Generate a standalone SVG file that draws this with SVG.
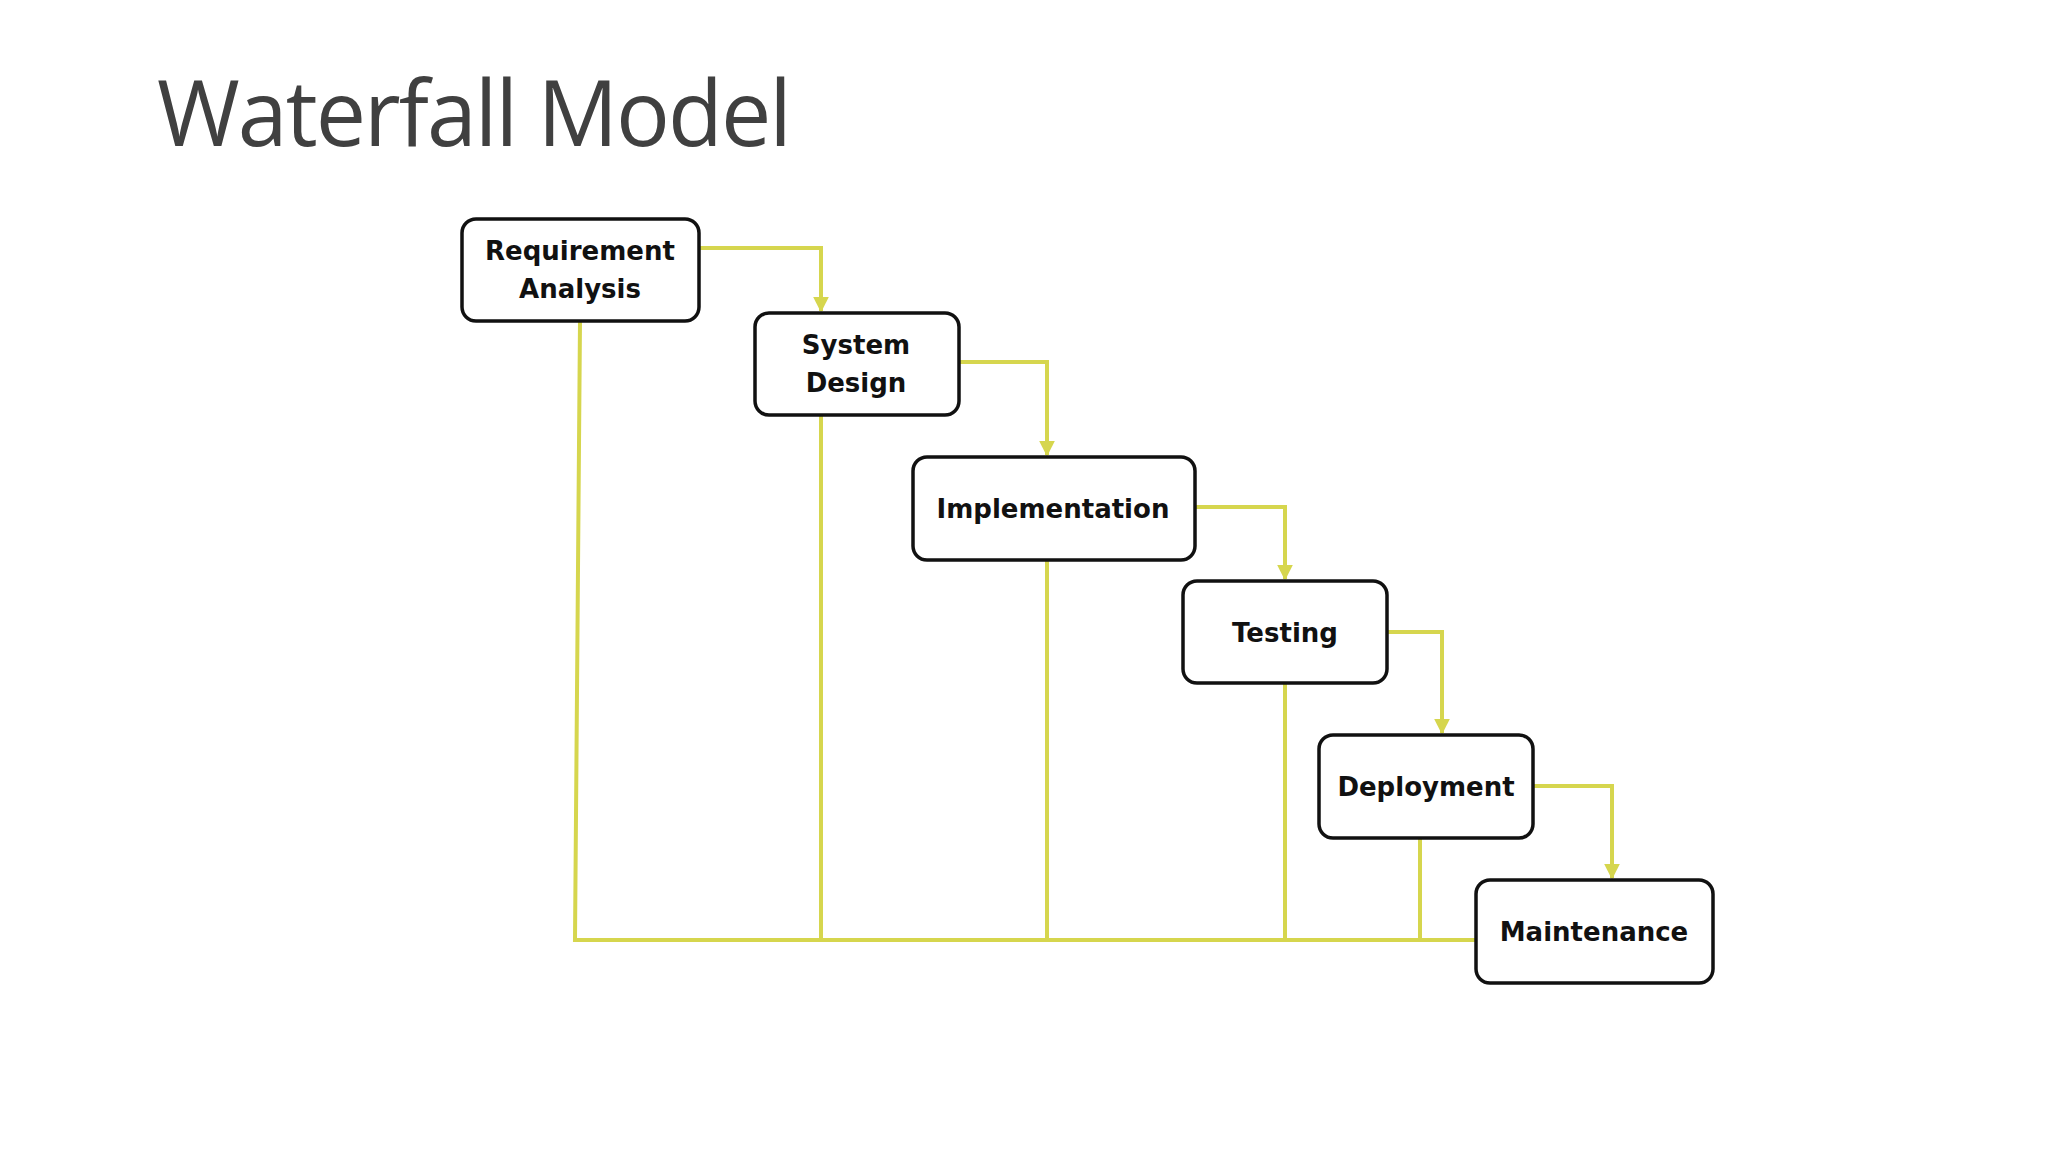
<svg xmlns="http://www.w3.org/2000/svg" width="2048" height="1152" viewBox="0 0 2048 1152">
<defs>
<style>
.box{fill:#fff;stroke:#111;stroke-width:3.5}
.lbl{font-family:"DejaVu Sans",sans-serif;font-weight:bold;font-size:26px;fill:#111;text-anchor:middle}
.c{fill:none;stroke:#d6d64e;stroke-width:4}
</style>
<marker id="ah" viewBox="0 0 10 10" refX="9" refY="5" markerWidth="4" markerHeight="4" orient="auto"><path d="M0,0L10,5L0,10z" fill="#d6d64e"/></marker>
</defs>
<rect width="2048" height="1152" fill="#fff"/>
<text x="157" y="146" font-family="'Open Sans',sans-serif" font-size="92" fill="#404040" textLength="633" lengthAdjust="spacingAndGlyphs" letter-spacing="-2">Waterfall Model</text>
<g id="connectors">
<path class="c" d="M699,248H821V311" marker-end="url(#ah)"/>
<path class="c" d="M959,362H1047V455" marker-end="url(#ah)"/>
<path class="c" d="M1195,507H1285V579" marker-end="url(#ah)"/>
<path class="c" d="M1387,632H1442V733" marker-end="url(#ah)"/>
<path class="c" d="M1533,786H1612V878" marker-end="url(#ah)"/>
<path class="c" d="M580,321L575,940H1476"/>
<path class="c" d="M821,415V940M1047,560V940M1285,683V940M1420,838V940"/>
</g>
<g id="n1"><rect class="box" x="462" y="219" width="237" height="102" rx="14"/><text class="lbl" x="580" y="260">Requirement</text><text class="lbl" x="580" y="298">Analysis</text></g>
<g id="n2"><rect class="box" x="755" y="313" width="204" height="102" rx="14"/><text class="lbl" x="856" y="354">System</text><text class="lbl" x="856" y="392">Design</text></g>
<g id="n3"><rect class="box" x="913" y="457" width="282" height="103" rx="14"/><text class="lbl" x="1053" y="518">Implementation</text></g>
<g id="n4"><rect class="box" x="1183" y="581" width="204" height="102" rx="14"/><text class="lbl" x="1285" y="642">Testing</text></g>
<g id="n5"><rect class="box" x="1319" y="735" width="214" height="103" rx="14"/><text class="lbl" x="1426" y="796">Deployment</text></g>
<g id="n6"><rect class="box" x="1476" y="880" width="237" height="103" rx="14"/><text class="lbl" x="1594" y="941">Maintenance</text></g>
</svg>
